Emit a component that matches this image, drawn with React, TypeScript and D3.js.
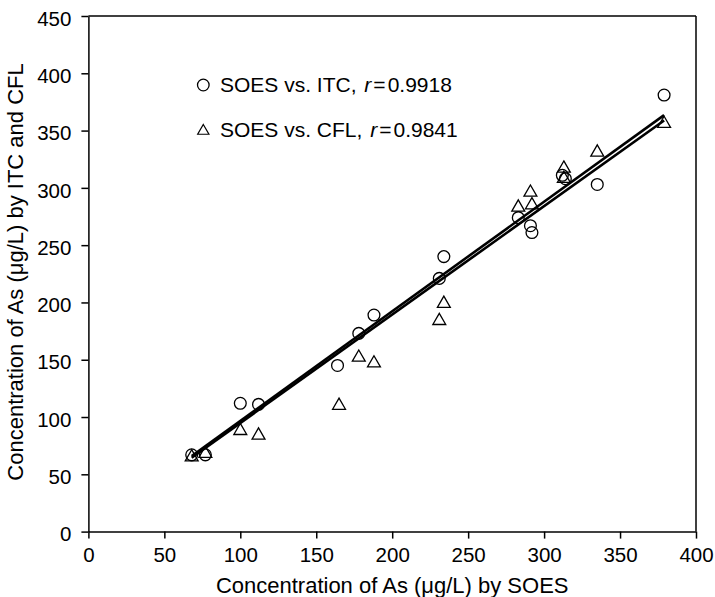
import React, { useEffect, useRef } from "react";
import * as d3 from "d3";

const soesItc = [68, 77, 100, 112, 164, 178, 188, 231, 234, 283, 291, 292, 312, 314, 335, 379];
const itcValues = [67, 67, 112, 111, 145, 173, 189, 221, 240, 274, 267, 261, 311, 308, 303, 381];
const soesCfl = [68, 77, 100, 112, 165, 178, 188, 231, 234, 283, 291, 292, 313, 313, 335, 379];
const cflValues = [65, 68, 88, 84, 110, 152, 147, 184, 199, 283, 296, 285, 317, 308, 331, 356];
// regression lines (start / end)
const fitSoes = [68, 379];
const fitItc = [66, 363.5];
const fitCfl = [64.5, 358.8];
const xTicks = [0, 50, 100, 150, 200, 250, 300, 350, 400];
const yTicks = [0, 50, 100, 150, 200, 250, 300, 350, 400, 450];

const W = 715;
const H = 597;
const FONT = "'Liberation Sans', Arial, sans-serif";

export default function App() {
  const gx = useRef<SVGGElement>(null);
  const gy = useRef<SVGGElement>(null);
  const x = d3.scaleLinear().domain([0, 400]).range([88.4, 696]);
  const y = d3.scaleLinear().domain([0, 450]).range([531.6, 16]);

  useEffect(() => {
    const ax = d3.axisBottom(x).tickValues(xTicks).tickSize(7).tickSizeOuter(0).tickPadding(9).tickFormat(d3.format("d"));
    const ay = d3.axisLeft(y).tickValues(yTicks).tickSize(7).tickSizeOuter(0).tickPadding(10).tickFormat(d3.format("d"));
    const sx = d3.select(gx.current!).call(ax as any);
    const sy = d3.select(gy.current!).call(ay as any);
    [sx, sy].forEach((s) => {
      s.selectAll("path").attr("stroke", "#000").attr("stroke-width", 1.5);
      s.selectAll("line").attr("stroke", "#000").attr("stroke-width", 1.5);
      s.selectAll("text").attr("font-size", 20.5).attr("font-family", FONT).attr("fill", "#000");
    });
    sy.selectAll("text").attr("dy", "0.45em");
  }, []);

  const line = d3.line<[number, number]>().x((d) => x(d[0])).y((d) => y(d[1]));
  const itcFit = fitSoes.map((v, i) => [v, fitItc[i]] as [number, number]);
  const cflFit = fitSoes.map((v, i) => [v, fitCfl[i]] as [number, number]);
  const tri = d3.symbol().type(d3.symbolTriangle).size(72)();

  return (
    <svg width={W} height={H} style={{ position: "absolute", left: 0, top: 0, background: "#fff" }}>
      <rect x={0} y={0} width={W} height={H} fill="#fff" />
      <line x1={x(0)} x2={x(400)} y1={y(450)} y2={y(450)} stroke="#000" strokeWidth={1.5} />
      <line x1={x(400)} x2={x(400)} y1={y(450)} y2={y(0)} stroke="#000" strokeWidth={1.5} />
      <g ref={gx} transform={`translate(0,${y(0)})`} />
      <g ref={gy} transform={`translate(${x(0)},0)`} />
      <path d={line(itcFit)!} stroke="#000" strokeWidth={2.6} fill="none" />
      <path d={line(cflFit)!} stroke="#000" strokeWidth={2.6} fill="none" />
      {soesItc.map((v, i) => (
        <circle key={"c" + i} cx={x(v)} cy={y(itcValues[i])} r={5.9} fill="none" stroke="#000" strokeWidth={1.3} />
      ))}
      {soesCfl.map((v, i) => (
        <path key={"t" + i} d={tri!} transform={`translate(${x(v)},${y(cflValues[i])})`} fill="none" stroke="#000" strokeWidth={1.3} />
      ))}
      <circle cx={203.3} cy={85} r={5.8} fill="none" stroke="#000" strokeWidth={1.3} />
      <text x={220} y={91.7} fontSize={21} fontFamily={FONT} fill="#000">{"SOES vs. ITC, "}<tspan dx={2} fontStyle="italic">r</tspan><tspan dx={2}>=</tspan><tspan dx={2}>0.9918</tspan></text>
      <path d={d3.symbol().type(d3.symbolTriangle).size(55)()!} transform="translate(203.3,131)" fill="none" stroke="#000" strokeWidth={1.2} />
      <text x={220} y={136.7} fontSize={21} fontFamily={FONT} fill="#000">{"SOES vs. CFL, "}<tspan dx={2} fontStyle="italic">r</tspan><tspan dx={2}>=</tspan><tspan dx={2}>0.9841</tspan></text>
      <text x={(x(0) + x(400)) / 2} y={593} fontSize={22} fontFamily={FONT} textAnchor="middle" fill="#000">
        Concentration of As (μg/L) by SOES
      </text>
      <text transform={`translate(23,272) rotate(-90)`} fontSize={22} fontFamily={FONT} textAnchor="middle" fill="#000">
        Concentration of As (μg/L) by ITC and CFL
      </text>
    </svg>
  );
}
